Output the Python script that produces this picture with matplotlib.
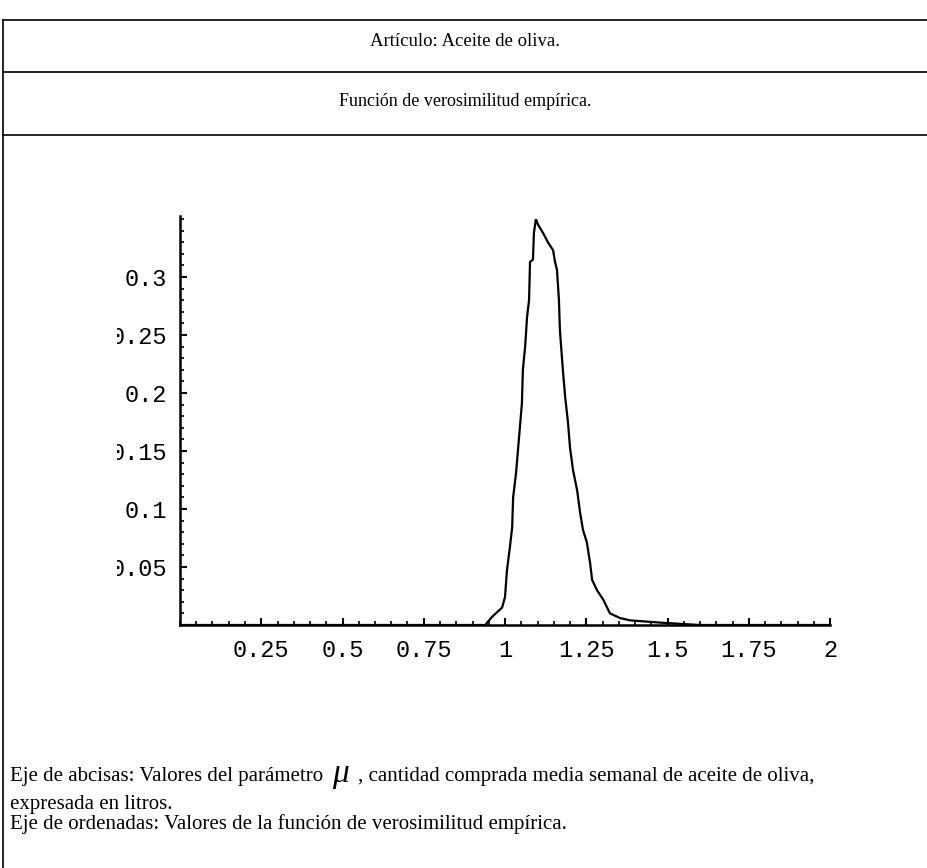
import matplotlib
matplotlib.use("Agg")
import matplotlib.pyplot as plt
from matplotlib.lines import Line2D
from matplotlib.transforms import Bbox, TransformedBbox
from matplotlib.ticker import MultipleLocator

# valores del parámetro mu (litros) y verosimilitud empírica
mu = [0.0, 0.94, 0.945, 0.96, 0.991, 1.0, 1.006, 1.015, 1.022, 1.025, 1.034,
      1.04, 1.046, 1.052, 1.055, 1.062, 1.068, 1.074, 1.077, 1.086, 1.089,
      1.095, 1.102, 1.117, 1.132, 1.148, 1.154, 1.16, 1.166, 1.169, 1.178,
      1.185, 1.194, 1.2, 1.209, 1.222, 1.231, 1.24, 1.252, 1.262, 1.268,
      1.283, 1.302, 1.323, 1.354, 1.385, 1.48, 1.6, 2.0]
lik = [0.0, 0.0, 0.002, 0.007, 0.015, 0.024, 0.047, 0.067, 0.084, 0.11, 0.131,
       0.151, 0.171, 0.191, 0.22, 0.24, 0.266, 0.28, 0.313, 0.315, 0.338,
       0.35, 0.345, 0.338, 0.33, 0.323, 0.313, 0.306, 0.28, 0.254, 0.22,
       0.197, 0.174, 0.153, 0.134, 0.116, 0.097, 0.082, 0.071, 0.053, 0.039,
       0.03, 0.022, 0.01, 0.006, 0.004, 0.002, 0.0, 0.0]

xticks = [0.25, 0.5, 0.75, 1, 1.25, 1.5, 1.75, 2]
xlabels = ["0.25", "0.5", "0.75", "1", "1.25", "1.5", "1.75", "2"]
yticks = [0.05, 0.1, 0.15, 0.2, 0.25, 0.3]
ylabels = ["0.05", "0.1", "0.15", "0.2", "0.25", "0.3"]

titulo1 = "Artículo: Aceite de oliva."
titulo2 = "Función de verosimilitud empírica."
nota1a = "Eje de abcisas: Valores del parámetro"
nota1b = ", cantidad comprada media semanal de aceite de oliva,"
nota2 = "expresada en litros."
nota3 = "Eje de ordenadas: Valores de la función de verosimilitud empírica."

W, H = 928, 868
fig = plt.figure(figsize=(W / 100, H / 100), dpi=100)

def fx(px):
    return px / W

def fy(py):
    return 1 - py / H

# marco de la tabla
for y in [20, 72, 135]:
    fig.add_artist(Line2D([fx(3), 1], [fy(y), fy(y)], color="black", lw=1.2))
fig.add_artist(Line2D([fx(3), fx(3)], [fy(20), 0], color="black", lw=1.2))

serif = "Liberation Serif"
fig.text(fx(465), fy(41), titulo1, ha="center", va="center", fontsize=13.5, family=serif)
fig.text(fx(465), fy(101), titulo2, ha="center", va="center", fontsize=13, family=serif)

# gráfico
ax = fig.add_axes([fx(180), fy(625), fx(650), 406 / H])
ax.plot(mu, lik, color="black", lw=1.6)
ax.set_xlim(0, 2.0)
ax.set_ylim(0, 0.35)
for s in ["top", "right"]:
    ax.spines[s].set_visible(False)
for s in ["left", "bottom"]:
    ax.spines[s].set_linewidth(1.8)
ax.spines["left"].set_bounds(0, 0.3526)

mono = "Liberation Mono"
ax.set_xticks(xticks)
ax.set_xticklabels(xlabels, family=mono, fontsize=17)
ax.set_yticks(yticks)
ax.set_yticklabels(ylabels, family=mono, fontsize=17)
ax.xaxis.set_minor_locator(MultipleLocator(0.05))
ax.yaxis.set_minor_locator(MultipleLocator(0.01))
ax.tick_params(which="major", direction="in", length=5, width=1.5)
ax.tick_params(which="minor", direction="in", length=3, width=1.2)
ax.tick_params(axis="x", which="major", pad=10)
ax.tick_params(axis="y", which="major", pad=9)
ax.patch.set_visible(False)

# las etiquetas del eje y aparecen cortadas por la izquierda
clip = TransformedBbox(Bbox.from_extents(fx(117), 0, 1, 1), fig.transFigure)
for t in ax.yaxis.get_major_ticks():
    t.label1.set_clip_box(clip)
    t.label1.set_clip_on(True)

# notas al pie
fs = 15
fig.text(fx(10), fy(776), nota1a, ha="left", va="center", fontsize=fs, family=serif)
fig.text(fx(340), fy(774), "μ", ha="center", va="center", fontsize=24,
         family=serif, style="italic")
fig.text(fx(358), fy(776), nota1b, ha="left", va="center", fontsize=fs, family=serif)
fig.text(fx(10), fy(804), nota2, ha="left", va="center", fontsize=fs, family=serif)
fig.text(fx(10), fy(824), nota3, ha="left", va="center", fontsize=fs, family=serif)

fig.savefig("out.png", dpi=100)
